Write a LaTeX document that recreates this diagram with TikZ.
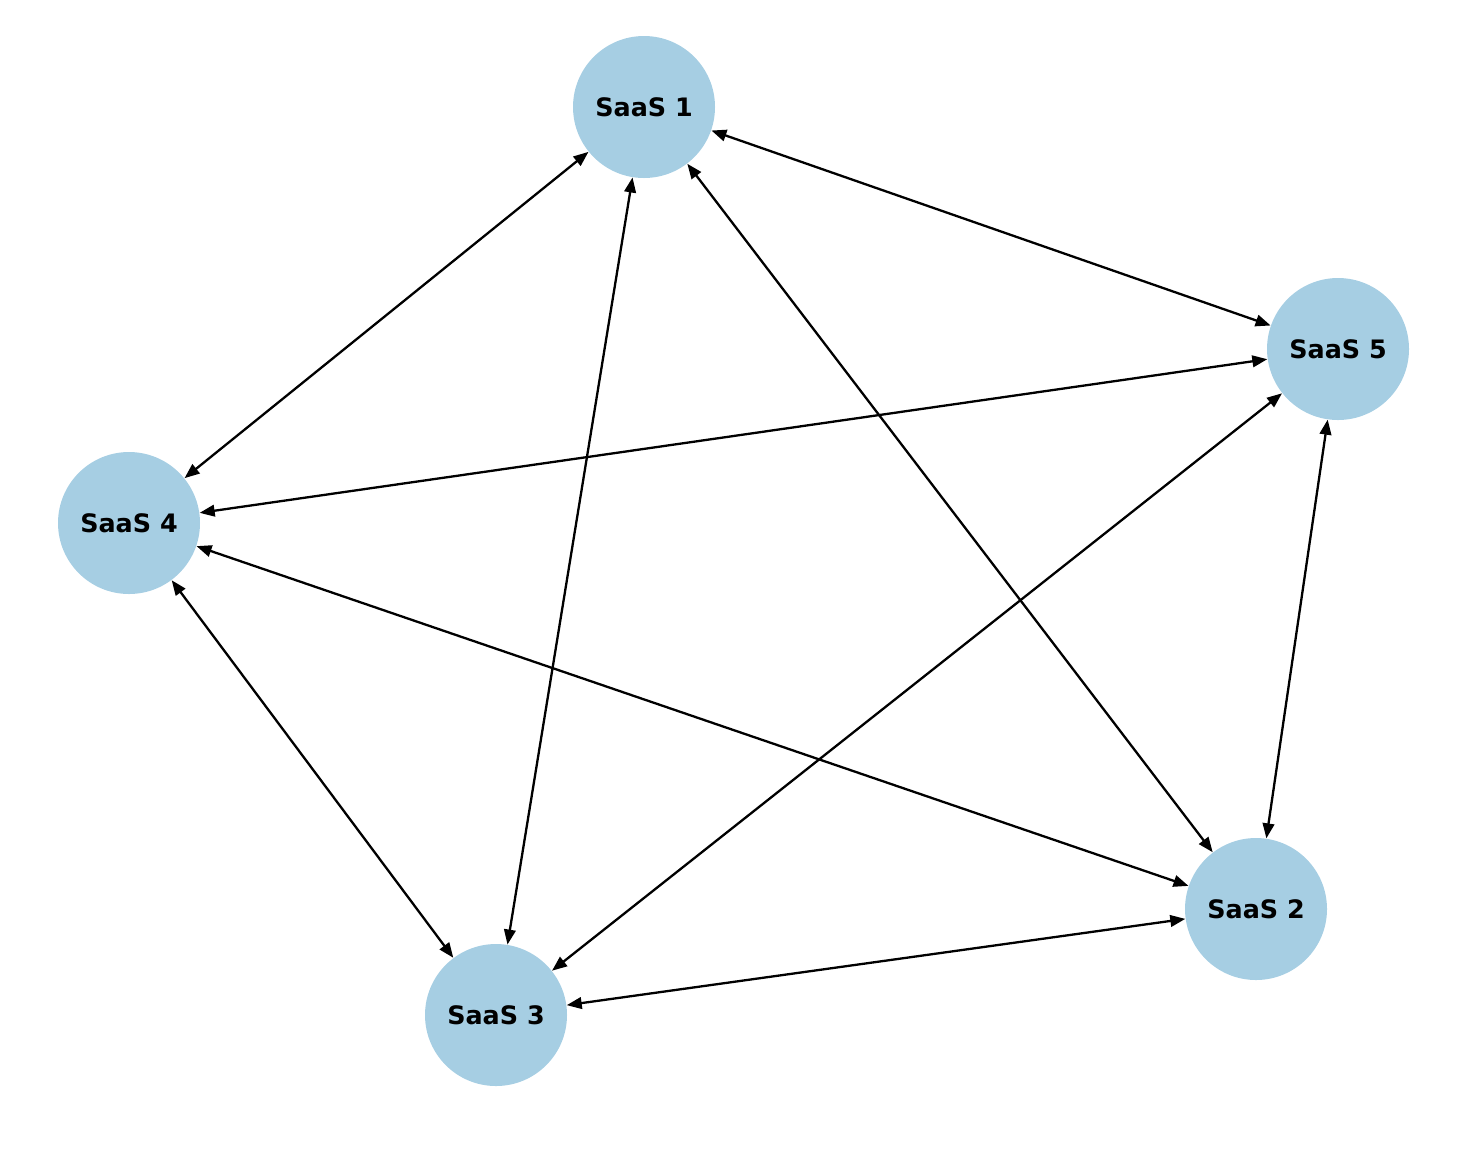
\documentclass[tikz,border=0pt]{standalone}
\usepackage{fontspec}
\setmainfont{DejaVu Sans}
\usetikzlibrary{arrows.meta}
\definecolor{nodeblue}{HTML}{A6CEE3}
\begin{document}
\begin{tikzpicture}[x=0.5pt,y=-0.5pt,
  saas/.style={circle,fill=nodeblue,draw=none,minimum size=71pt,inner sep=0pt,
    font=\fontsize{12.7pt}{14pt}\selectfont\bfseries},
  link/.style={line width=1.15pt,{Triangle[length=7.5pt,width=5.8pt]}-{Triangle[length=7.5pt,width=5.8pt]}}]
\useasboundingbox (0,0) rectangle (1476,1148);
\node[saas] (s1) at (644,107) {SaaS 1};
\node[saas] (s5) at (1338,349) {SaaS 5};
\node[saas] (s4) at (129,523) {SaaS 4};
\node[saas] (s2) at (1256,909) {SaaS 2};
\node[saas] (s3) at (496,1015) {SaaS 3};
\draw[link] (s1) -- (s5);
\draw[link] (s1) -- (s4);
\draw[link] (s1) -- (s3);
\draw[link] (s1) -- (s2);
\draw[link] (s5) -- (s4);
\draw[link] (s5) -- (s3);
\draw[link] (s5) -- (s2);
\draw[link] (s4) -- (s2);
\draw[link] (s4) -- (s3);
\draw[link] (s3) -- (s2);
\end{tikzpicture}
\end{document}
